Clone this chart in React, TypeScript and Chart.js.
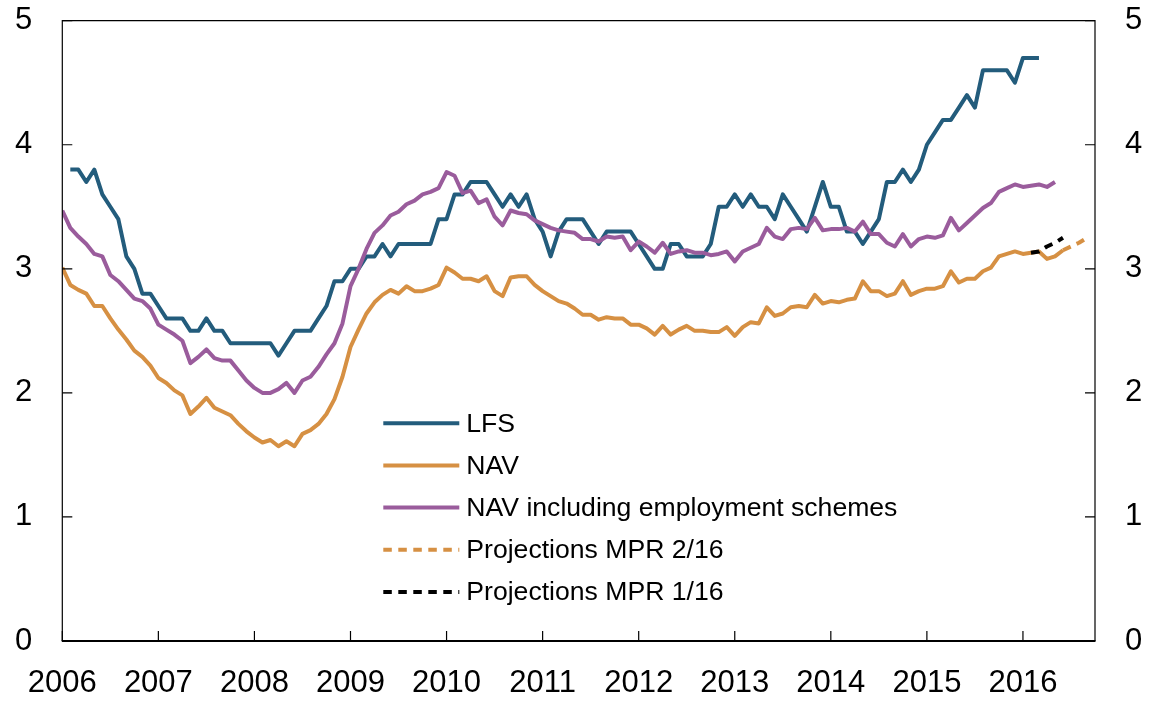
import React, { useEffect, useRef } from "react";
import { Chart, registerables } from "chart.js";

Chart.register(...registerables);

const FONT = "'Liberation Sans', Arial, Helvetica, sans-serif";

const startYear = 2006;
const yearLabels = ["2006", "2007", "2008", "2009", "2010", "2011", "2012", "2013", "2014", "2015", "2016"];
const yTickValues = [0, 1, 2, 3, 4, 5];
const monthsShown = 129;

const seriesNames = [
  "LFS",
  "NAV",
  "NAV including employment schemes",
  "Projections MPR 2/16",
  "Projections MPR 1/16",
];

// LFS, starts Feb 2006 (month index 1)
const lfsStart = 1;
const lfs = [
  3.8, 3.8, 3.7, 3.8, 3.6, 3.5, 3.4, 3.1, 3.0, 2.8, 2.8, 2.7, 2.6, 2.6, 2.6, 2.5, 2.5, 2.6, 2.5, 2.5,
  2.4, 2.4, 2.4, 2.4, 2.4, 2.4, 2.3, 2.4, 2.5, 2.5, 2.5, 2.6, 2.7, 2.9, 2.9, 3.0, 3.0, 3.1, 3.1, 3.2,
  3.1, 3.2, 3.2, 3.2, 3.2, 3.2, 3.4, 3.4, 3.6, 3.6, 3.7, 3.7, 3.7, 3.6, 3.5, 3.6, 3.5, 3.6, 3.4, 3.3,
  3.1, 3.3, 3.4, 3.4, 3.4, 3.3, 3.2, 3.3, 3.3, 3.3, 3.3, 3.2, 3.1, 3.0, 3.0, 3.2, 3.2, 3.1, 3.1, 3.1,
  3.2, 3.5, 3.5, 3.6, 3.5, 3.6, 3.5, 3.5, 3.4, 3.6, 3.5, 3.4, 3.3, 3.5, 3.7, 3.5, 3.5, 3.3, 3.3, 3.2,
  3.3, 3.4, 3.7, 3.7, 3.8, 3.7, 3.8, 4.0, 4.1, 4.2, 4.2, 4.3, 4.4, 4.3, 4.6, 4.6, 4.6, 4.6, 4.5, 4.7,
  4.7, 4.7,
];

// NAV, starts Jan 2006 (month index 0)
const navStart = 0;
const nav = [
  3.01, 2.87, 2.83, 2.8, 2.7, 2.7, 2.6, 2.51, 2.43, 2.34, 2.29, 2.22, 2.12, 2.08, 2.02, 1.98, 1.83, 1.89, 1.96, 1.88,
  1.85, 1.82, 1.75, 1.69, 1.64, 1.6, 1.62, 1.57, 1.61, 1.57, 1.67, 1.7, 1.75, 1.83, 1.95, 2.13, 2.37, 2.51, 2.64, 2.73,
  2.79, 2.83, 2.8, 2.86, 2.82, 2.82, 2.84, 2.87, 3.01, 2.97, 2.92, 2.92, 2.9, 2.94, 2.82, 2.78, 2.93, 2.94, 2.94, 2.87,
  2.82, 2.78, 2.74, 2.72, 2.68, 2.63, 2.63, 2.59, 2.61, 2.6, 2.6, 2.55, 2.55, 2.52, 2.47, 2.54, 2.47, 2.51, 2.54, 2.5,
  2.5, 2.49, 2.49, 2.53, 2.46, 2.53, 2.57, 2.56, 2.69, 2.62, 2.64, 2.69, 2.7, 2.69, 2.79, 2.72, 2.74, 2.73, 2.75, 2.76,
  2.9, 2.82, 2.82, 2.78, 2.8, 2.9, 2.79, 2.82, 2.84, 2.84, 2.86, 2.98, 2.89, 2.92, 2.92, 2.98, 3.01, 3.1, 3.12, 3.14,
  3.12, 3.13, 3.14, 3.08, 3.1, 3.15,
];

// NAV including employment schemes, starts Jan 2006
const navEmpStart = 0;
const navEmp = [
  3.47, 3.33, 3.26, 3.2, 3.12, 3.1, 2.95, 2.9, 2.83, 2.76, 2.74, 2.68, 2.55, 2.51, 2.47, 2.42, 2.24, 2.29, 2.35, 2.28,
  2.26, 2.26, 2.18, 2.1, 2.04, 2.0, 2.0, 2.03, 2.08, 2.0, 2.1, 2.13, 2.21, 2.31, 2.4, 2.56, 2.86, 3.0, 3.16, 3.29,
  3.35, 3.43, 3.46, 3.52, 3.55, 3.6, 3.62, 3.65, 3.78, 3.75, 3.61, 3.63, 3.53, 3.56, 3.42, 3.35, 3.47, 3.45, 3.44, 3.39,
  3.36, 3.33, 3.31, 3.3, 3.29, 3.24, 3.24, 3.22, 3.26, 3.25, 3.26, 3.15, 3.22, 3.18, 3.13, 3.21, 3.12, 3.14, 3.15, 3.13,
  3.13, 3.11, 3.12, 3.14, 3.06, 3.14, 3.17, 3.2, 3.33, 3.26, 3.24, 3.32, 3.33, 3.32, 3.41, 3.31, 3.32, 3.32, 3.33, 3.3,
  3.38, 3.28, 3.28, 3.21, 3.18, 3.28, 3.18, 3.24, 3.26, 3.25, 3.27, 3.41, 3.31, 3.37, 3.43, 3.49, 3.53, 3.62, 3.65, 3.68,
  3.66, 3.67, 3.68, 3.66, 3.7,
];

// Projections MPR 2/16, from June 2016
const proj216Start = 125;
const proj216 = [3.15, 3.18, 3.21, 3.25];

// Projections MPR 1/16, from February 2016
const proj116Start = 121;
const proj116 = [3.13, 3.14, 3.18, 3.21, 3.25];

const colors = ["#235c7c", "#d69043", "#9a5c9c", "#d69043", "#000000"];
const dashes: number[][] = [[], [], [], [8.5, 6.5], [8.5, 6.5]];

const toPoints = (start: number, arr: number[]) => arr.map((v, i) => ({ x: start + i, y: v }));

const frameAndLegend = {
  id: "frameAndLegend",
  afterDraw(chart: any) {
    const { ctx, chartArea: a, scales } = chart;
    ctx.save();
    // frame
    ctx.strokeStyle = "#000";
    ctx.lineWidth = 1.2;
    ctx.beginPath();
    ctx.moveTo(a.left, a.bottom);
    ctx.lineTo(a.left, a.top);
    ctx.lineTo(a.right, a.top);
    ctx.lineTo(a.right, a.bottom);
    ctx.stroke();
    ctx.lineWidth = 2;
    ctx.beginPath();
    ctx.moveTo(a.left - 0.5, a.bottom);
    ctx.lineTo(a.right + 0.5, a.bottom);
    ctx.stroke();
    // inner ticks
    ctx.lineWidth = 1.2;
    const tl = 10;
    scales.y.ticks.forEach((t: any) => {
      const py = scales.y.getPixelForValue(t.value);
      ctx.beginPath();
      ctx.moveTo(a.left, py);
      ctx.lineTo(a.left + tl, py);
      ctx.moveTo(a.right, py);
      ctx.lineTo(a.right - tl, py);
      ctx.stroke();
    });
    scales.x.ticks.forEach((t: any) => {
      const px = scales.x.getPixelForValue(t.value);
      ctx.beginPath();
      ctx.moveTo(px, a.bottom);
      ctx.lineTo(px, a.bottom - tl);
      ctx.stroke();
    });
    // legend
    const lx0 = a.left + 321;
    const lx1 = a.left + 397;
    const tx = a.left + 404;
    const ly0 = a.top + 402.5;
    const step = 42.2;
    ctx.font = `26.6px ${FONT}`;
    ctx.textBaseline = "middle";
    ctx.textAlign = "left";
    seriesNames.forEach((name, i) => {
      const y = ly0 + i * step;
      ctx.strokeStyle = colors[i];
      ctx.lineWidth = 4;
      ctx.lineCap = "butt";
      ctx.setLineDash(dashes[i]);
      ctx.beginPath();
      ctx.moveTo(lx0, y);
      ctx.lineTo(lx1, y);
      ctx.stroke();
      ctx.setLineDash([]);
      ctx.fillStyle = "#000";
      ctx.fillText(name, tx, y + 1);
    });
    ctx.restore();
  },
};

export default function App() {
  const canvasRef = useRef<HTMLCanvasElement | null>(null);

  useEffect(() => {
    if (!canvasRef.current) return;
    Chart.defaults.font.family = FONT;
    const dataSeries = [
      toPoints(lfsStart, lfs),
      toPoints(navStart, nav),
      toPoints(navEmpStart, navEmp),
      toPoints(proj216Start, proj216),
      toPoints(proj116Start, proj116),
    ];
    const orders = [3, 2, 1, 4, 0];
    const tickFont = { family: FONT, size: 31 };
    const yCommon = (pos: string, width: number) => ({
      type: "linear" as const,
      position: pos,
      min: 0,
      max: 5,
      afterBuildTicks: (s: any) => {
        s.ticks = yTickValues.map((v) => ({ value: v }));
      },
      ticks: { font: tickFont, color: "#000", padding: 30 },
      grid: { display: false, drawTicks: false },
      border: { display: false },
      afterFit: (s: any) => {
        s.width = width;
        s.paddingTop = 0;
        s.paddingBottom = 0;
      },
    });
    const chart = new Chart(canvasRef.current, {
      type: "line",
      data: {
        datasets: dataSeries.map((d, i) => ({
          label: seriesNames[i],
          data: d,
          borderColor: colors[i],
          backgroundColor: colors[i],
          borderWidth: 4,
          borderDash: dashes[i],
          borderCapStyle: "butt",
          borderJoinStyle: "round",
          pointRadius: 0,
          tension: 0,
          fill: false,
          order: orders[i],
          yAxisID: "y",
        })),
      },
      options: {
        animation: false,
        responsive: false,
        maintainAspectRatio: false,
        layout: { padding: { top: 20.7, left: 0, right: 0, bottom: 0 } },
        plugins: { legend: { display: false }, tooltip: { enabled: false } },
        scales: {
          x: {
            type: "linear",
            min: 0,
            max: monthsShown,
            afterBuildTicks: (s: any) => {
              s.ticks = yearLabels.map((_, i) => ({ value: i * 12 }));
            },
            ticks: {
              font: tickFont,
              color: "#000",
              padding: 24,
              maxRotation: 0,
              autoSkip: false,
              callback: (v: any) => yearLabels[Math.round(Number(v) / 12)] ?? "",
            },
            grid: { display: false, drawTicks: false },
            border: { display: false },
            afterFit: (s: any) => {
              s.height = 60;
            },
          },
          y: yCommon("left", 62.3),
          y2: yCommon("right", 55),
        },
      } as any,
      plugins: [frameAndLegend],
    });
    return () => chart.destroy();
  }, []);

  return (
    <div style={{ position: "absolute", left: 0, top: 0, width: 1150, height: 701, background: "#fff" }}>
      <canvas ref={canvasRef} width={1150} height={701} style={{ display: "block" }} />
    </div>
  );
}
